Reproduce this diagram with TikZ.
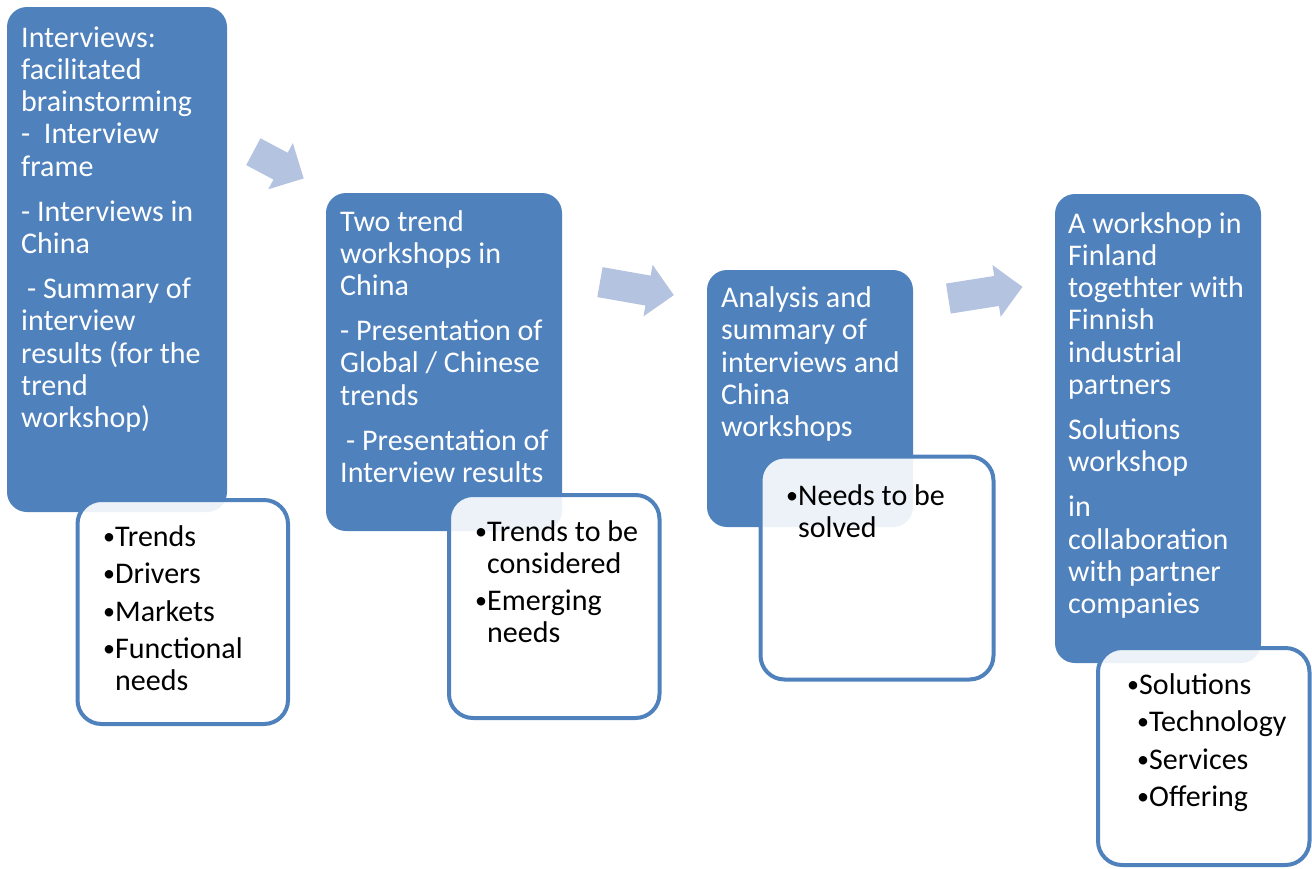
\documentclass[tikz,border=0pt]{standalone}
\usepackage{fontspec}
\setmainfont{Carlito}
\usetikzlibrary{shapes.arrows}
\definecolor{stepblue}{RGB}{79,129,189}
\definecolor{arrowblue}{RGB}{180,196,224}
\newcommand{\itm}{\makebox[12pt][l]{\raisebox{2pt}{\fontsize{24}{24}\selectfont\textbullet}}}
\newcommand{\hng}{\hspace*{12pt}}
\begin{document}
\begin{tikzpicture}[x=1pt,y=-1pt,
    step box/.style={rectangle,rounded corners=20pt,fill=stepblue,inner sep=0pt,outer sep=0pt,anchor=north west},
    list box/.style={rectangle,rounded corners=24pt,draw=stepblue,line width=4pt,fill=white,fill opacity=0.9,inner sep=0pt,outer sep=0pt,anchor=north west},
    block arrow/.style={single arrow,fill=arrowblue,inner xsep=0pt,inner ysep=15pt,single arrow head extend=11pt,single arrow head indent=0pt},
    step text/.style={anchor=base west,align=left,inner sep=0pt,text=white,font=\fontsize{30}{32.3}\selectfont},
    list text/.style={anchor=base west,align=left,inner sep=0pt,text=black,font=\fontsize{30}{32}\selectfont}
  ]
  \useasboundingbox (0,0) rectangle (1312,868);

  % arrows between the steps
  \node[block arrow,minimum height=57pt,rotate=-28] (a1) at (271.8,161.5) {};
  \node[block arrow,minimum height=75pt,rotate=-10] (a2) at (629.4,287.3) {};
  \node[block arrow,minimum height=75pt,rotate=9] (a3) at (977.9,293.9) {};

  % steps
  \node[step box,minimum width=220pt,minimum height=505pt] (b1) at (7,7) {};
  \node[step box,minimum width=236pt,minimum height=338pt] (b2) at (326,193) {};
  \node[step box,minimum width=206pt,minimum height=257pt] (b3) at (707,270) {};
  \node[step box,minimum width=206pt,minimum height=469pt] (b4) at (1055,194) {};

  % results
  \node[list box,minimum width=210.5pt,minimum height=224pt] (w1) at (77.5,500) {};
  \node[list box,minimum width=210.5pt,minimum height=223pt] (w2) at (449,495) {};
  \node[list box,minimum width=233pt,minimum height=223pt] (w3) at (760.5,456.5) {};
  \node[list box,minimum width=211.5pt,minimum height=217pt] (w4) at (1098,648) {};

  % texts (placed at the baseline of their last line)
  \node[step text] (t1) at (21,427.7) {Interviews:\\facilitated\\brainstorming\\-\ \ Interview\\frame\\[12.7pt]- Interviews in\\China\\[12.7pt]\hspace*{6pt}- Summary of\\interview\\results (for the\\trend\\workshop)};
  \node[step text] (t2) at (340,482.5) {Two trend\\workshops in\\China\\[12.7pt]- Presentation of\\Global / Chinese\\trends\\[12.7pt]\hspace*{6pt}- Presentation of\\Interview results};
  \node[step text] (t3) at (721,436.7) {Analysis and\\summary of\\interviews and\\China\\workshops};
  \node[step text] (t4) at (1068,613.7) {A workshop in\\Finland\\togethter with\\Finnish\\industrial\\partners\\[12.7pt]Solutions\\workshop\\[12.7pt]in\\collaboration\\with partner\\companies};

  \node[list text] (l1) at (103,690.8) {\itm Trends\\[5.6pt]\itm Drivers\\[5.6pt]\itm Markets\\[5.6pt]\itm Functional\\\hng needs};
  \node[list text] (l2) at (475,642.6) {\itm Trends to be\\\hng considered\\[5.6pt]\itm Emerging\\\hng needs};
  \node[list text] (l3) at (786,537) {\itm Needs to be\\\hng solved};
  \node[list text] (l4) at (1127,806.8) {\itm Solutions\\[5.6pt]\hspace*{10pt}\itm Technology\\[5.6pt]\hspace*{10pt}\itm Services\\[5.6pt]\hspace*{10pt}\itm Offering};
\end{tikzpicture}
\end{document}
